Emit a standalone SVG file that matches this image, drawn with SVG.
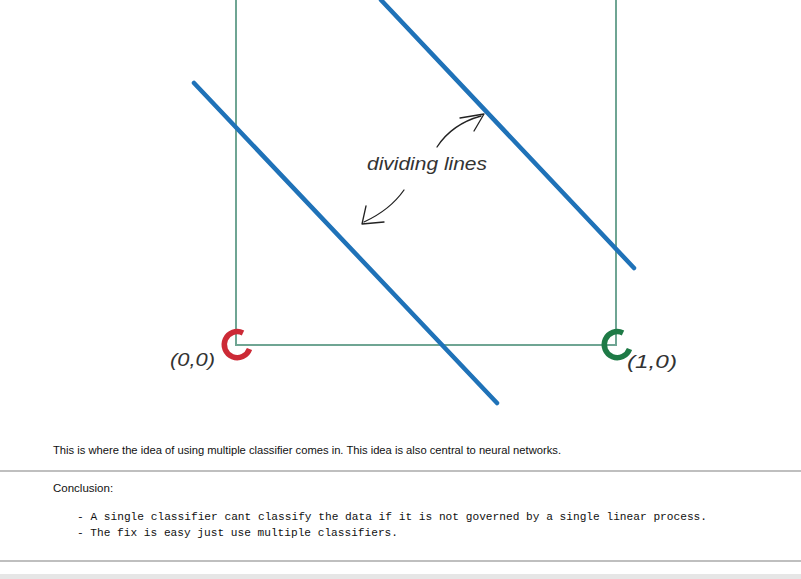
<svg xmlns="http://www.w3.org/2000/svg" width="801" height="579" viewBox="0 0 801 579">
<style>
.hand{font-family:"Liberation Sans","DejaVu Sans",sans-serif;font-style:italic;fill:#333;}
.body{font-family:"Liberation Sans",Arial,sans-serif;font-size:11.5px;fill:#111;}
.mono{font-family:"Liberation Mono","DejaVu Sans Mono",monospace;font-size:11.2px;fill:#111;}
.blue{stroke:#1f72b8;stroke-width:4.5;stroke-linecap:round;fill:none;}
.arr{stroke:#222;stroke-width:1.3;fill:none;stroke-linecap:round;stroke-linejoin:round;}
.rule{stroke:#aaa;stroke-width:1.3;}
</style>
<rect width="801" height="579" fill="#fff"/>
<g id="square">
<path d="M236 0 V345 H616 V0" fill="none" stroke="#6fa593" stroke-width="2"/>
</g>
<g id="lines">
<path class="blue" d="M194 83 L497 403"/>
<path class="blue" d="M381 0 L634 268"/>
</g>
<g id="origin">
<path d="M243 333 A13 13 0 1 0 249.5 349" fill="none" stroke="#cc2a36" stroke-width="5.5"/>
<text class="hand" x="170" y="366" font-size="18" textLength="45" lengthAdjust="spacingAndGlyphs">(0,0)</text>
</g>
<g id="point10">
<path d="M623 333 A13 13 0 1 0 629.5 349" fill="none" stroke="#1e7a46" stroke-width="5.5"/>
<text class="hand" x="627" y="368" font-size="18" textLength="50" lengthAdjust="spacingAndGlyphs">(1,0)</text>
</g>
<g id="label">
<text class="hand" x="367" y="170" font-size="19" textLength="120" lengthAdjust="spacingAndGlyphs">dividing lines</text>
<path class="arr" d="M437 147 Q452 124 481 116"/>
<path class="arr" d="M460 118 L484 114 L474 131"/>
<path class="arr" d="M404 190 Q390 210 364 222"/>
<path class="arr" d="M366 206 L362 224 L384 222"/>
</g>
<g id="text">
<text class="body" x="53" y="454" textLength="508" lengthAdjust="spacingAndGlyphs">This is where the idea of using multiple classifier comes in. This idea is also central to neural networks.</text>
<line class="rule" x1="0" y1="471" x2="801" y2="471"/>
<text class="body" x="53" y="492">Conclusion:</text>
<text class="mono" x="77" y="520" textLength="630" lengthAdjust="spacingAndGlyphs">- A single classifier cant classify the data if it is not governed by a single linear process.</text>
<text class="mono" x="77" y="536" textLength="321" lengthAdjust="spacingAndGlyphs">- The fix is easy just use multiple classifiers.</text>
<line class="rule" x1="0" y1="561" x2="801" y2="561"/>
<rect x="0" y="574" width="801" height="5" fill="#e6e6e6"/>
</g>
</svg>
